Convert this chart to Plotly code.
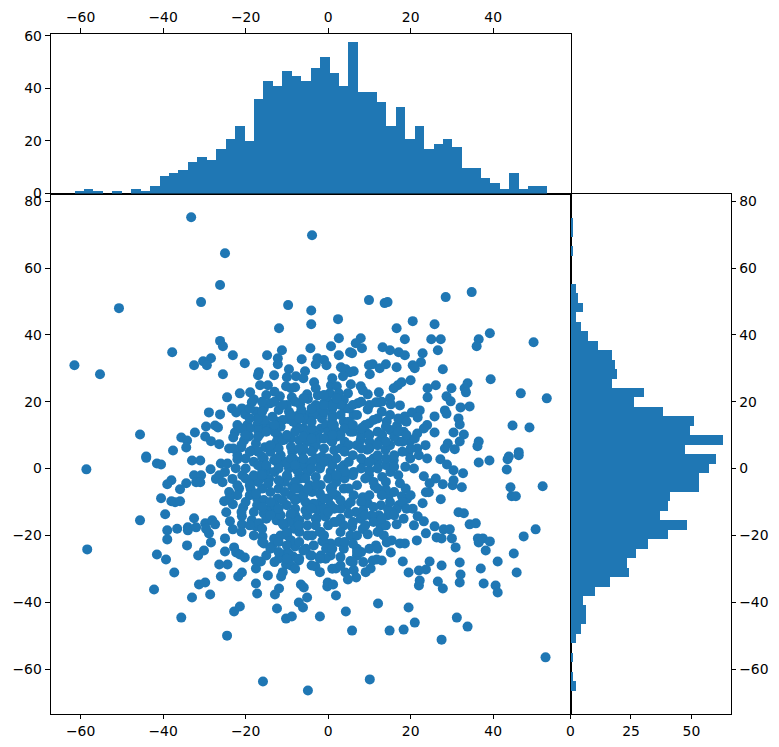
import plotly.graph_objects as go

# Histogram counts (50 bins each)
top_counts = [1,2,1,0,1,0,2,1,3,7,8,9,12,14,13,17,21,26,20,36,43,41,47,45,43,48,52,46,41,58,
              39,39,35,26,33,21,26,17,19,21,18,10,10,6,4,2,8,2,3,3]
right_counts = [1,1,0,1,0,0,0,2,3,5,2,4,7,11,17,18,19,17,30,26,38,51,49,63,47,60,57,53,53,41,
                40,37,48,40,32,27,23,24,16,10,5,6,6,4,2,0,1,0,1,2]
x_bin_start, x_bin_width = -61.6, 2.29
y_bin_start, y_bin_width = 75.2, -2.83

# Scatter values, by region of the plot
x_upper_left = [-33.2,-25,-26.2,-30.8,-50.7,-9.7,-4.1,-4.1,-11.9,-26.2,-25.5,-37.8,-23.1,-4.3,-11.2,-14.8,-12.2,-6.4,-20.2,-28.4,
 -30.3,-29.4,-32.5,-61.5,-55.3,-25.5,-12.2,-9.5,-5.6,-16.8,-17,-13.1,-7.8,-10,-16.5,-14.6,-10.2,-8,-18.9,-21.4,
 -24.5,-11.7,-8.8,-5.1,-4.9,-18,-18.5,-6.8,-23.3,-20.9,-14.1,-15.6,-28.9,-26.2,-22.3,-20.1,-17.5,-29.6,-27.4,-26.7,
 -32.3,-45.6,-35.6,-34.2,-29.8,-28.4,-26.4,-22.6,-23,-34.4,-37.6,-44.1,-21.1,-18.5,-17.5,-20.1,-19.2,-20.4,-19.6,-17.2,
 -15.6,-16.5,-12.3,-9.7,-7.1,-7.5,-12.3,-14.7,-13.1,-10.7,-8.7,-15.3,-6.3,-5.9,-5]
y_upper_left = [75.2,64.4,54.9,49.8,48,48.9,47.3,43.2,42,38.2,36.6,34.8,33.9,36,35.4,33.9,33,32.7,31.5,33,
 32.1,30.9,30.9,30.9,28.2,28.2,31.2,29.7,29.1,28.8,27.9,27.9,27.6,27.3,24.9,24.9,24.6,24.3,22.8,22.5,
 21.3,21.6,21.3,22.2,20.8,20.7,19.8,19.2,18,18,19.5,18,16.8,16.2,16.8,16.2,17.1,12.6,12.9,12.3,
 10.8,10.2,9.3,8.4,9.6,8.2,7.3,10.8,9.3,6.3,5.4,3.6,6.3,5.4,7.5,10.2,9.6,8.4,13,13,
 12,10.4,14,14.8,16,12.5,10,13,7,8.6,5,6.4,5,12,16]

x_upper_right = [-3.9,9.9,13.7,14.4,28.5,34.8,2.4,20.5,25.8,16.6,39.2,49.8,18.6,25,27.3,36.5,36,2.6,7.9,6.7,
 8.2,13.2,15,17.1,18.6,22.9,26.6,0.7,5.3,5.8,2.6,-2.6,-1,-3,-0.4,22.5,20.5,21,14,9.9,
 10.8,12.5,16.6,27.8,10.1,3.1,4.3,6.2,5.3,3.6,39.4,-3.4,20,17.8,16.9,15.9,5.5,0.7,2.1,7.9,
 33.8,33.1,33.4,26.1,24.1,24.1,29.9,28.7,29.7,46.7,53,9.6,8.4,0.4,2.6,4.8,-2.5,12.3,12.3,15,
 15.2,17.4,11.6,7.2,3.8,4,9.6,32.1,34.3,28.3,28.7,22.2,20.3,18.6,21.7,25.8,31.6,31.9,30.4,32.9,
 31.9,44.7,48.8,36.5,36.2,29,28.3,30.7,43.8,46.2,14.2,18.6,12,9.9,8.6,6.2,1,-1,-2.6,-1.4,
 1,3.8,1.4,-1.8,15.1,16.7,18.3,17.1,19.8,21.6,24,23.2,25.8,23.6,21.6,13.1,12.3,9.5,7.9,5.4,
 2.2,0.6,-2.6,3.8,9.5,13.9,19.5,-3.5]
y_upper_right = [69.8,50.4,49.5,49.8,51.3,52.8,44.7,44.1,43.2,42,40.5,37.8,38.7,38.7,38.7,38.7,36.6,39,39,37.5,
 36,36.3,35.4,34.8,33.9,34.5,35.4,36.6,34.8,34.5,33.9,33,32.5,31.2,30.9,31.8,30.9,30,31.2,30.9,
 31.2,30,30.3,29.7,28.2,30.3,29.7,29.1,28.8,27.6,26.7,25.8,26.4,25.8,24.9,24,25.2,24.9,24.6,24.6,
 25.5,24,22.8,24.9,24,21.3,24,21.6,20.1,22.5,21,22.2,23.4,22.5,22.5,22.5,21.9,22.8,19.8,21,
 19.2,18.9,19.8,19.5,20.5,18,17.7,18.3,18.6,17.4,16.4,17.4,16.8,15.6,15.3,15.6,15,13.2,10.8,10.2,
 8.1,12.9,12.3,8.1,6.7,7.5,6,5.8,3.6,4.9,14.1,14.4,15,13.5,12.5,16,18,19.5,18,16,
 16,14,13,12,11.5,12.8,11,8.1,8.1,10.5,13,12,10.8,7,6,10,8,10.5,8.6,11,
 9.6,8.6,10,6,5.6,5.6,5,6]

x_lower_left = [-58.6,-58.4,-44.1,-41.5,-40.5,-33,-31,-38,-39,-34.4,-35.9,-32.5,-30.8,-32,-31,-40.5,-38,-37.1,-35.9,-39.5,
 -45.6,-32.5,-39,-36.6,-39,-34,-34,-32,-29.8,-28.1,-27.4,-28.9,-29.6,-28.4,-34.2,-41.5,-39.3,-31.5,-30.1,-37.3,
 -42.2,-31.3,-29.8,-28.6,-33,-35.6,-24.5,-15.8,-4.9,-22.8,-21.4,-26.4,-24.4,-26,-21.8,-20.9,-17.5,-25,-25,-22.8,
 -22.3,-21.4,-20.2,-17.5,-16.3,-14.6,-11.4,-17.5,-17.2,-11.9,-12.9,-12.4,-10.2,-8.8,-6.6,-5.9,-7.1,-6.1,-5.1,-11.9,
 -10.2,-8.5,-7.1,-10.2,-9,-15.6,-13.6,-8,-5.4,-4.9,-15.9,-23.1,-20.9,-20.9,-23.8,-24.7,-23.1,-20.6,-25.2,-18.5,
 -17.5,-16.8,-14.3,-15.6,-12.7,-17.2,-15.6,-12.3,-17.2,-7.5,-5.5,-9.1,-10.7,-8.3,-7.5,-9.9,-13.1,-5.1,-21.6,-18.8,
 -23.2,-20.8,-18.8,-16.4,-14.3,-28.5,-26,-26.4,-27.2,-25.6,-24.4,-22,-22.4,-18,-15.6,-13.1,-10.7,-14.7,-9.9,-8.7,
 -6.7,-7.5,-5.1]
y_lower_left = [-0.25,-24.2,3.2,1.5,1.2,2.4,2.4,-3.5,-4.7,-4.4,-6.2,-2,-2,-4.1,-4.1,-8.9,-9.8,-10.1,-9.8,-13.7,
 -15.5,-14.9,-18.5,-18,-21.2,-17.6,-18.5,-17.6,-16.4,-15.5,-16.7,-19.4,-18,-22.1,-23,-25.7,-27.2,-26,-24.5,-31.1,
 -36.2,-34.7,-34.1,-37.7,-38.6,-44.6,-50,-63.7,-66.4,-42.8,-41.3,-28.7,-28.7,-32.3,-32.3,-31.1,-29.9,-20.9,-24.8,-23.6,
 -25.1,-25.7,-26.6,-27.5,-27.8,-32,-32.3,-34.4,-37.4,-35.9,-37.7,-41.9,-44.9,-44.3,-34.7,-35.6,-40.1,-41.6,-38.6,-26.9,
 -25.4,-26.3,-27.5,-28.7,-29,-22.4,-23.3,-23.3,-24,-20,-20.3,-18.2,-16.7,-14.3,-15.8,-13.1,-10.7,-11.6,-9.8,-15.5,
 -17.3,-16.4,-12,-13.4,-13,-9,-9.4,-9,-11,-9,-10,-14,-17,-18,-16,-20,-21,-14,-6,-6,
 -3.1,-2,-4,-3,-3.1,-0.2,1.5,-2,-3.1,-4.1,1.5,2.8,0.1,2,3,2.5,2,-0.5,-2.4,-5.4,
 -3,2,1]

x_lower_right = [52,52.7,10.1,27.5,31.2,33.8,21,18.3,14.9,5.8,19.5,12.1,4.3,-2,1.9,-0.2,-0.1,1.2,27.8,26.6,
 22,22.2,32.1,31.9,37.7,40.6,41.1,45.7,37,41.1,45,31.9,27.5,24.6,23.7,22,19.5,18.1,13,10.8,
 11.8,15.2,11.6,17.4,18.6,21.5,15.4,14.2,13.5,23.7,26.3,27.5,30,30.9,38.2,36.3,36.5,37.5,39.2,47.4,
 50.3,25.8,28,29.5,34.3,35.8,31.6,32.9,20.8,16.6,12.8,23.2,21.7,18.3,16.6,20.5,22.9,27.3,44.5,45.5,
 44.2,32.4,27.8,30.2,30.4,26.1,24.6,23.2,23.7,24.4,18.8,17.4,14.7,14,17.9,19.1,17.1,12.8,14.5,14.5,
 12.3,10.5,9.6,8.4,6.2,11.3,3.8,4.6,6.7,7.9,3.8,5.8,8.4,9.6,5.4,2.6,7,3.8,0.6,-1.8,
 -3.9,-1.4,-0.6,-2.8,1.4,0.6,-1.8,-0.6,-3.1,1.9,-4.3,5.4,7,8.5,6.2,4.2,6.8,4.8,9.1,10.3,
 0.6,-1.8,3,0.6,-1.8,-3.9,3,0.6,-1.8,3.8,6.2,8.6,11.9,15.1,9.9,13.1,18.7,20.8,19.9,15.9,
 24,27.2,28.8,30.4,32.7,36.5,39.1,43.3,43.5,46.2]
y_lower_right = [-5.3,-56.5,-63.1,-51.2,-44.6,-47.3,-46.1,-48.2,-48.5,-48.5,-41.6,-40.4,-42.8,-44.3,-38,-35.3,-34.1,-34.7,-35.9,-33.8,
 -35,-33.5,-31.7,-34.1,-34.4,-35,-37.1,-31.1,-29.9,-27.8,-25.4,-28.1,-29,-27.8,-30.2,-30.5,-31.1,-27.8,-27.5,-27.5,
 -27.2,-25.1,-23,-22.4,-22.4,-21.5,-21.5,-22.1,-20,-19.4,-20.6,-20.9,-20.9,-23.6,-24.5,-20.9,-22.1,-20.9,-21.8,-20.3,
 -18.2,-17.3,-18.2,-18.2,-16.7,-16.4,-13.1,-13.4,-17,-16.7,-17.3,-15.8,-14.3,-15,-12.2,-12,-10.4,-9.2,-8.3,-8.3,
 -5.6,-5.6,-4.7,-5,-3.5,-3,-4.4,-2.3,-7.1,-7.1,-6,-4.4,-8,-6.3,-8.3,-9.1,-11,-11,-12,-14,
 -14,-14.1,-10.4,-8.6,-8,-5.3,-6,-11,-13,-15,-17,-17.4,-18.1,-19.7,-20,-22,-24,-24,-22.4,-19,
 -20,-21.7,-14.4,-15,-16,-26,-26,-27,-29.3,-29.9,-26,-27.7,-26,-28,-30.4,-31.1,-32.6,-33.2,-31,-29.9,
 -11,-10,-12,-6,-5,-7,-2,-1,1,1,-1,2,2,-1,-2,-2.5,0.5,0,3,2.5,
 3,2.8,1.2,-0.5,-1.4,1.8,2.4,-0.3,2.8,4]

x_centre = [-13,-12.5,-11,-9,-7,-5,-3,-3.5,-5.5,-7,-8.5,-11,-13.5,-15.5,-17,-5.5,-3.5,-6.5,-9.5,-12,
 -3,-1.5,-0.5,0,1,1.5,-1,-1.5,-3,-6.5,-9.5,-12,-14,-16,-11.5,-8.5,-5,-3,-7,-4.5,
 -7,-9,-12,-14,-16,-10.5,-13,-16,-2,-3.5,-5.5,-8,-10,-13,-15,-12.5,-11.5,-8,-7,-9,
 -11.5,-2.5,-1]
y_centre = [11,8,8.5,9,8.5,8,7,10,11,12,14,14.5,15.5,14.5,15,14.5,16,17.5,17,17.5,
 19,15,13,11,8,5.5,6,3.5,3,0.5,0,1,5,3.5,4,3,-1,-2.5,-2,-5,
 -6,-8,-6,-7,-6,-4,-1,-1,-7.5,-10.5,-12.5,-12,-11,-11,-15,-15.5,-14,-14,-19,-21.5,
 -20,-12.5,-14]

x_core = [-19,-17,-14,-11.5,-8,-6,-4,-4,-6,-9,-12.5,-10,-7.5,-5.5,-8,-6,-8,-10.5,-12,-14.5,
 -17,-19,-17.5,-14,-11,-9,-7,-9.5,-11,-12,-16,-18,-16,-12,-10,-7,-5,-3,-5,-3,
 -2,0,-1,-3.5,-6,-9.5,0,2,-2,0,2,4,5,7,6,8,10,12,14,11,
 16,17,12,14,16,10,8,5.5,3,1.5,-1,5,8.5,11,3,11,9,7,3,4,
 6,-0.5,3,1,1,3,5,6,8,10,12,14,11,13,15,17,19,16,18,15,
 10,4,3,5,2,4,1,0,1,3,5,7,8,9,7,5,3,0,-1,-4,
 -8,-10,-13,-15,-16,-19,-21,-24,-22,-20,-17,-20,-18,-22,-20,-24,-25,-9,-6,-1,
 1,-2]
y_core = [15,11.5,12,12.5,11,9.5,12,5,6,6.5,3,1.5,-0.5,-3,-4,-8,-9.5,-7,-3.5,-4.5,
 -4,-8,-7.5,-10,-9.5,-13.5,-15.5,-16,-16.5,-12,-11.5,-13,-18,-22,-23,-22,-17,-15,-20,-17,
 -19,-17,-22,-23,-24.5,-25.5,-9,-8,-5,-3,-4,-3,-6,-5,-2,0,-0.5,0,1,3,
 0.5,-2,-6,-4,-7,-8,-10,-10,-9.5,-12,-12,-13.5,-12.5,-11.5,-15,-16,-17,-20,-19,-22,
 -22.5,-24,-26.5,-5.5,15,16,14,11,10,8,11,12.5,14.5,17,16,15,14,9.5,8,7,
 6,8,6,7,11,12,13,3,1,0,2,7,6,13,16,18,19,20,22,18,
 20,19,20,22,17,12,12,6,4,3,1,0,-2,-8,-10,-7,-1,16,15,17,
 19,9]

x_core_more = [-16,-14,-12,-15,-13,-10,-7,-4,-2,-4,-8,-11,-2,1,3,6,8,10,7,12,
 1,-1,2,0,6,9,12,14,13,16,18,19,20,15,13,11,9,4,2,-2,
 -4,-6,-9,-12,-14,-17,-19,-21,-23,-20,-16,-19,-22,-24,-21,-19,-18,-21,-14,-10,
 -7,-4,-1,1,-3,-5,-8,-10,-12,-15,-8,-4,-1,2,4,6,8,10,12,14,
 16,18,20,22,17,19,21,14,12,10,8,6,3,1,-1,-4,-7,-10,-13,-15,
 -17,-20,-22,-19,-16,-13,-11,-7,-4,-1,2,6,8,10,13,-6,-3,-9,1,-6]
y_core_more = [-22,-24,-25,-26,-28,-27,-27,-26,-27,-29,-30,-31,-31,-30,-29,-28,-25,-24,-25,-24,
 -24,-20,-16,-13,-16,-14,-19,-17,-15,-14,-10,-12,-8,-10,-8,-4,-3,-1,-2,0,
 2,3,3,6,7,5,5,7,6,-3,-2,-5,-5,-9,-13,-17,-20,-19,-14,-19,
 -17,-12,-9,-7,-5,-6,-6,-2,0,1,1,0,2,3,5,4,3,2,4,3,
 4,5,6,4,11,10,9,8,7,10,12,13,10,10,9,9,6,10,13,11,
 9.5,10,13,18,20,23,19,15,14,19,21,19,20,19,20,21,24,24,27,27]

scatter_x = x_upper_left + x_upper_right + x_lower_left + x_lower_right + x_centre + x_core + x_core_more
scatter_y = y_upper_left + y_upper_right + y_lower_left + y_lower_right + y_centre + y_core + y_core_more

x_ticks = [-60,-40,-20,0,20,40]
y_ticks = [-60,-40,-20,0,20,40,60,80]
top_ticks = [0,20,40,60]
right_ticks = [0,25,50]
x_range = [-67.3, 58.75]
y_range = [-73.3, 82.3]

BLUE = "#1f77b4"
W, H = 779, 747
L, R = 50.5 / W, 570.5 / W
RR = 730.5 / W
B0, B1 = (H - 713.5) / H, (H - 193.5) / H
T1 = (H - 33.5) / H

top_x = [x_bin_start + (i + 0.5) * x_bin_width for i in range(len(top_counts))]
right_y = [y_bin_start + (i + 0.5) * y_bin_width for i in range(len(right_counts))]

fig = go.Figure()
fig.add_trace(go.Scatter(x=scatter_x, y=scatter_y, mode="markers", xaxis="x", yaxis="y",
                         marker=dict(size=10, color=BLUE, line=dict(width=0)), hoverinfo="skip"))
fig.add_trace(go.Bar(x=top_x, y=top_counts, width=x_bin_width, xaxis="x2", yaxis="y2",
                     marker=dict(color=BLUE, line=dict(width=0))))
fig.add_trace(go.Bar(x=right_counts, y=right_y, width=abs(y_bin_width), orientation="h", xaxis="x3", yaxis="y3",
                     marker=dict(color=BLUE, line=dict(width=0))))

ax = dict(showgrid=False, zeroline=False, showline=True, linecolor="black", linewidth=1,
          mirror=True, ticks="outside", ticklen=4.9, tickwidth=1, tickcolor="black", automargin=False,
          tickfont=dict(family="DejaVu Sans", size=13.9, color="black"))

fig.update_layout(
    template="none",
    width=W, height=H, margin=dict(l=0, r=0, t=0, b=0, pad=0), autosize=False,
    paper_bgcolor="white", plot_bgcolor="white", showlegend=False, bargap=0,
    xaxis=dict(ax, domain=[L, R], range=x_range, tickvals=x_ticks, anchor="y"),
    yaxis=dict(ax, domain=[B0, B1], range=y_range, tickvals=y_ticks, anchor="x"),
    xaxis2=dict(ax, domain=[L, R], range=x_range, tickvals=x_ticks, anchor="y2", side="top"),
    yaxis2=dict(ax, domain=[B1, T1], range=[0, 60.9], tickvals=top_ticks, anchor="x2"),
    xaxis3=dict(ax, domain=[R, RR], range=[0, 66.15], tickvals=right_ticks, anchor="y3"),
    yaxis3=dict(ax, domain=[B0, B1], range=y_range, tickvals=y_ticks, anchor="x3", side="right"),
)

fig.write_html("out.html", config={"displayModeBar": False}, post_script="document.body.style.margin='0';")
